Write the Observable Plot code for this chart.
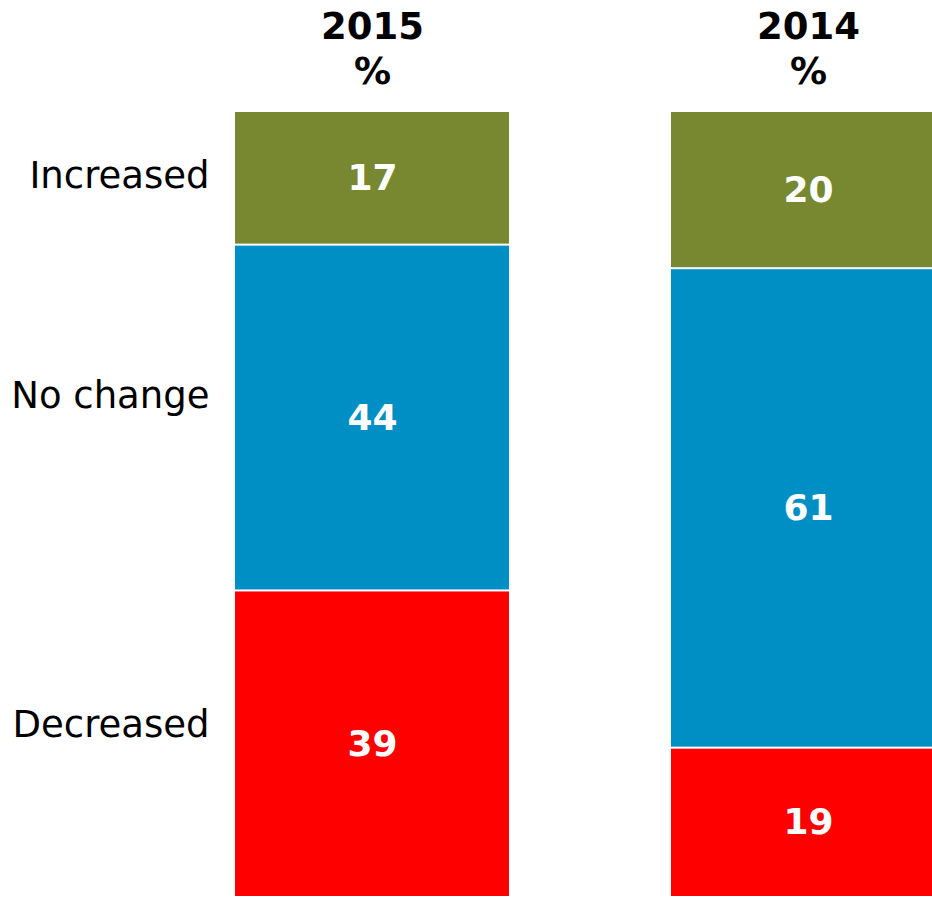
<!DOCTYPE html>
<html>
<head>
<meta charset="utf-8">
<script src="https://cdn.jsdelivr.net/npm/d3@7"></script>
<script src="https://cdn.jsdelivr.net/npm/@observablehq/plot@0.6"></script>
<style>
  html, body { margin: 0; padding: 0; background: #fff; }
  #chart { width: 932px; height: 897px; overflow: hidden; }
</style>
</head>
<body>
<div id="chart"></div>
<script>
// Data
const years = ["2015", "2014"];
const categories = ["Increased", "No change", "Decreased"];
const values2015 = [17, 44, 39];
const values2014 = [20, 61, 19];
const colors = ["#778830", "#008FC4", "#FF0000"];

const data = [];
years.forEach((yr, i) => {
  const vals = i === 0 ? values2015 : values2014;
  categories.forEach((c, j) => data.push({year: yr, cat: c, value: vals[j]}));
});

// Row labels sit beside the 2015 segments (midpoint in data units, computed from the values)
const rowLabels = categories.map((c, j) => ({
  cat: c,
  mid: d3.sum(values2015.slice(0, j)) + values2015[j] / 2
}));

const font = "DejaVu Sans, Verdana, sans-serif";
const labelNudge = {"Increased": -2, "No change": -22, "Decreased": -19};

const chart = Plot.plot({
  width: 932,
  height: 897,
  marginTop: 111,
  marginBottom: 0,
  marginLeft: 235,
  marginRight: 0,
  style: {fontFamily: font, background: "white", overflow: "hidden"},
  x: {type: "band", domain: years, range: [235, 945], paddingInner: 0.372, paddingOuter: 0, axis: null},
  y: {domain: [0, 100], reverse: true, axis: null},
  color: {domain: categories, range: colors},
  marks: [
    Plot.barY(data, Plot.stackY({
      x: "year", y: "value", fill: "cat", order: categories,
      insetTop: 1, insetBottom: 1
    })),
    Plot.text(data, Plot.stackY({
      x: "year", y: "value", z: "cat", order: categories,
      text: d => String(d.value),
      fill: "white", fontSize: 36, fontWeight: "bold", fontFamily: font
    })),
    Plot.text(years, {
      x: d => d, text: d => d + "\n%",
      frameAnchor: "top", lineAnchor: "top", dy: -105, lineHeight: 1.22,
      fontSize: 37, fontWeight: "bold", fill: "black", fontFamily: font
    }),
    ...rowLabels.map(r => Plot.text([r], {
      y: "mid", text: "cat",
      frameAnchor: "left", textAnchor: "end", dx: -26, dy: labelNudge[r.cat],
      fontSize: 37, fill: "black", fontFamily: font
    }))
  ]
});
document.getElementById("chart").appendChild(chart);
</script>
</body>
</html>
